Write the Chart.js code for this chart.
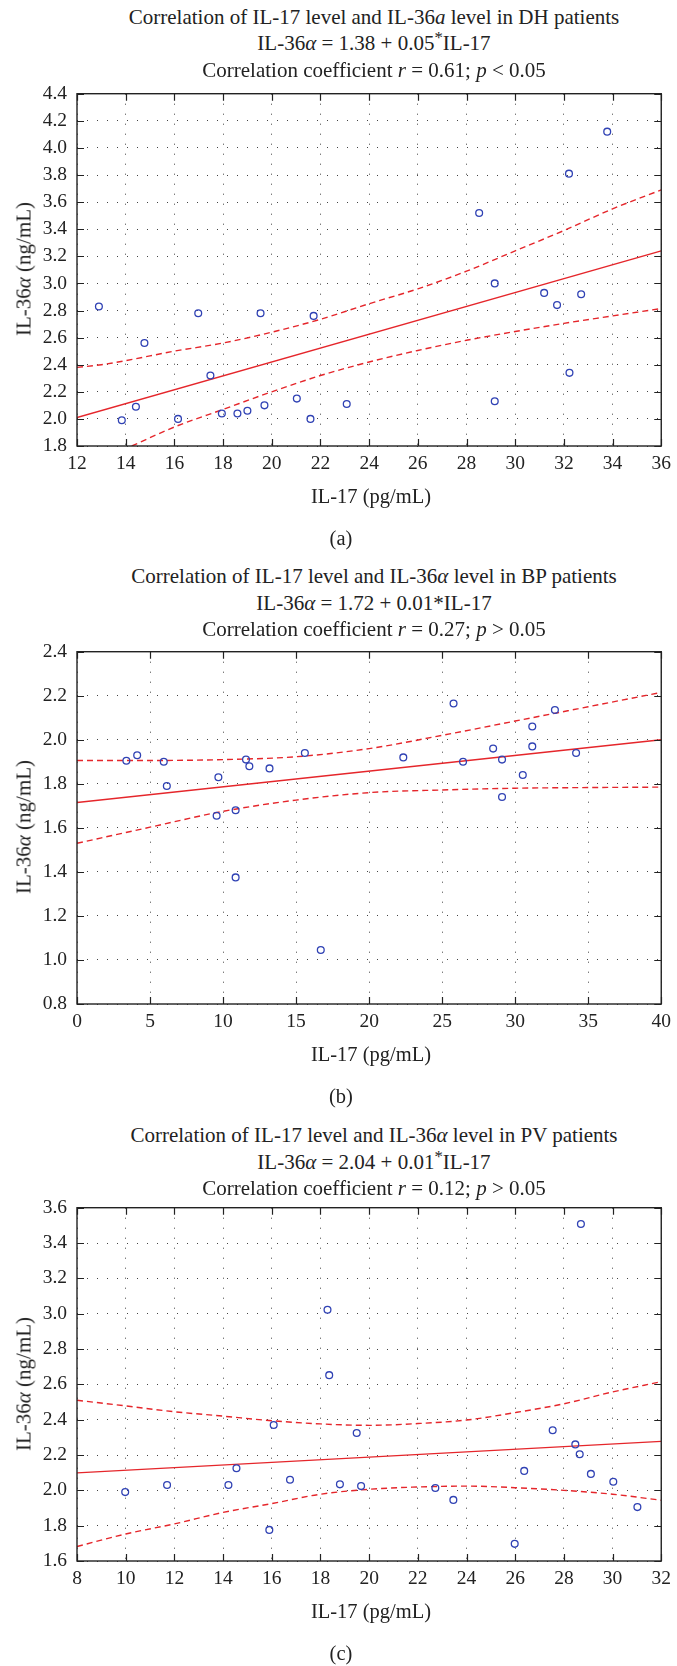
<!DOCTYPE html>
<html><head><meta charset="utf-8">
<script src="https://cdn.jsdelivr.net/npm/chart.js@4.4.0/dist/chart.umd.min.js"></script>
<style>
html,body{margin:0;padding:0;background:#fff;}
body{width:677px;height:1666px;position:relative;overflow:hidden;font-family:"Liberation Serif","Times New Roman",serif;color:#222;}
.t{position:absolute;white-space:nowrap;transform:translate(-50%,-50%);font-size:21px;line-height:1;}
.ax{position:absolute;white-space:nowrap;transform:translate(-50%,-50%);font-size:20.5px;line-height:1;}
.yt{position:absolute;white-space:nowrap;transform:translate(-50%,-50%) rotate(-90deg);font-size:21px;line-height:1;}
sup{font-size:0.8em;vertical-align:0;position:relative;top:-0.4em;line-height:0;}
canvas{position:absolute;left:0;}
</style></head><body>
<script>
// ---------- Panel (a): DH ----------
const dhIL17 = [12.9,13.84,14.42,14.77,16.15,16.98,17.48,17.95,18.59,19.0,19.54,19.70,21.03,21.59,21.72,23.08,29.16,29.16,31.19,31.72,32.71,32.23,28.52,32.21,33.78];
const dhIL36 = [2.83,1.99,2.09,2.56,2.00,2.78,2.32,2.04,2.04,2.06,2.78,2.10,2.15,2.00,2.76,2.11,3.00,2.13,2.93,2.84,2.92,2.34,3.52,3.81,4.12];
const dhFitX = [12,36];
const dhFitY = [2.01,3.24];
const dhUpperX = [12,13,14,16,18,20,22,24,26,28,30,32,34,36];
const dhUpperY = [2.38,2.40,2.43,2.50,2.56,2.64,2.735,2.85,2.96,3.09,3.24,3.39,3.55,3.69];
const dhLowerX = [14.25,16,18,20,22,24,26,28,30,32,34,36];
const dhLowerY = [1.80,1.94,2.07,2.20,2.32,2.42,2.505,2.58,2.645,2.705,2.76,2.815];
const dhXTicks = [12,14,16,18,20,22,24,26,28,30,32,34,36];
const dhYTicks = [1.8,2.0,2.2,2.4,2.6,2.8,3.0,3.2,3.4,3.6,3.8,4.0,4.2,4.4];

// ---------- Panel (b): BP ----------
const bpIL17 = [3.38,4.12,5.94,6.15,9.68,9.56,10.86,11.57,11.80,13.18,15.6,22.34,25.78,26.43,28.49,29.1,29.1,30.52,31.17,31.17,32.72,34.17,10.86,16.69];
const bpIL36 = [1.905,1.93,1.90,1.79,1.83,1.655,1.68,1.91,1.88,1.87,1.94,1.92,2.165,1.90,1.96,1.91,1.74,1.84,2.06,1.97,2.135,1.94,1.375,1.045];
const bpFitX = [0,40];
const bpFitY = [1.715,2.0];
const bpUpperX = [0,5,10,15,20,25,30,35,40];
const bpUpperY = [1.906,1.906,1.91,1.923,1.96,2.02,2.085,2.15,2.215];
const bpLowerX = [0,5,10,15,20,25,30,35,40];
const bpLowerY = [1.53,1.603,1.675,1.726,1.76,1.772,1.78,1.783,1.785];
const bpXTicks = [0,5,10,15,20,25,30,35,40];
const bpYTicks = [0.8,1.0,1.2,1.4,1.6,1.8,2.0,2.2,2.4];

// ---------- Panel (c): PV ----------
const pvIL17 = [9.98,11.70,14.22,14.55,15.9,16.08,16.75,18.80,19.49,19.67,22.72,23.46,25.98,26.37,27.54,28.47,28.65,29.11,30.03,31.02,18.29,18.36,28.70];
const pvIL36 = [1.99,2.03,2.03,2.125,1.776,2.37,2.06,2.034,2.325,2.024,2.013,1.946,1.697,2.11,2.34,2.26,2.204,2.093,2.049,1.905,3.022,2.652,3.508];
const pvFitX = [8,32];
const pvFitY = [2.099,2.277];
const pvUpperX = [8,10,12,14,16,18,20,22,24,26,28,30,32];
const pvUpperY = [2.51,2.478,2.445,2.42,2.394,2.376,2.368,2.378,2.398,2.44,2.49,2.557,2.615];
const pvLowerX = [8,10,12,14,16,18,20,22,24,26,28,30,32];
const pvLowerY = [1.682,1.753,1.81,1.875,1.925,1.978,2.006,2.019,2.024,2.015,2.0,1.978,1.944];
const pvXTicks = [8,10,12,14,16,18,20,22,24,26,28,30,32];
const pvYTicks = [1.6,1.8,2.0,2.2,2.4,2.6,2.8,3.0,3.2,3.4,3.6];

// ---------- Texts ----------
const titles = [
  ['Correlation of IL-17 level and IL-36<i>a</i> level in DH patients','IL-36<i>α</i> = 1.38 + 0.05<sup>*</sup>IL-17','Correlation coefficient <i>r</i> = 0.61; <i>p</i> &lt; 0.05'],
  ['Correlation of IL-17 level and IL-36<i>α</i> level in BP patients','IL-36<i>α</i> = 1.72 + 0.01*IL-17','Correlation coefficient <i>r</i> = 0.27; <i>p</i> &gt; 0.05'],
  ['Correlation of IL-17 level and IL-36<i>α</i> level in PV patients','IL-36<i>α</i> = 2.04 + 0.01<sup>*</sup>IL-17','Correlation coefficient <i>r</i> = 0.12; <i>p</i> &gt; 0.05']
];
const captions = ['(a)','(b)','(c)'];
const xTitle = 'IL-17 (pg/mL)';
const yTitle = 'IL-36<i>α</i> (ng/mL)';

// ---------- Layout (page pixels) ----------
const layout = [
  {top:92, bottom:446, titleY:[17,43,70]},
  {top:650, bottom:1004, titleY:[576,603,629]},
  {top:1206, bottom:1561, titleY:[1135,1162,1188]}
];
const AREA_LEFT = 77, AREA_RIGHT = 664, PAD_TOP = 20, XAXIS_H = 40;

const panels = [
  {x:dhIL17,y:dhIL36,fx:dhFitX,fy:dhFitY,ux:dhUpperX,uy:dhUpperY,lx:dhLowerX,ly:dhLowerY,xt:dhXTicks,yt:dhYTicks},
  {x:bpIL17,y:bpIL36,fx:bpFitX,fy:bpFitY,ux:bpUpperX,uy:bpUpperY,lx:bpLowerX,ly:bpLowerY,xt:bpXTicks,yt:bpYTicks},
  {x:pvIL17,y:pvIL36,fx:pvFitX,fy:pvFitY,ux:pvUpperX,uy:pvUpperY,lx:pvLowerX,ly:pvLowerY,xt:pvXTicks,yt:pvYTicks}
];

const zip = (xs,ys)=>xs.map((v,i)=>({x:v,y:ys[i]}));
const FONT = '"Liberation Serif","Times New Roman",serif';
const RED = '#e5262b', BLUE = '#3042b4', INK = '#222';

const framePlugin = {
  id:'frame',
  afterDatasetsDraw(chart){
    const {ctx, chartArea:a} = chart;
    const sx = chart.scales.x, sy = chart.scales.y;
    const L = 7;
    ctx.save();
    ctx.strokeStyle = INK; ctx.lineWidth = 1.2;
    ctx.beginPath();
    sx.ticks.forEach(t=>{const p=Math.round(sx.getPixelForValue(t.value))+0.5;
      ctx.moveTo(p,a.bottom); ctx.lineTo(p,a.bottom-L); ctx.moveTo(p,a.top); ctx.lineTo(p,a.top+L);});
    sy.ticks.forEach(t=>{const p=Math.round(sy.getPixelForValue(t.value))+0.5;
      ctx.moveTo(a.left,p); ctx.lineTo(a.left+L,p); ctx.moveTo(a.right,p); ctx.lineTo(a.right-L,p);});
    ctx.stroke();
    ctx.lineWidth = 1.4;
    ctx.strokeRect(a.left,a.top,a.right-a.left,a.bottom-a.top);
    ctx.restore();
  }
};

function addText(cls, html, x, y){
  const d = document.createElement('div');
  d.className = cls; d.innerHTML = html;
  d.style.left = x+'px'; d.style.top = y+'px';
  document.body.appendChild(d);
}

panels.forEach((P, k)=>{
  const L = layout[k];
  const cTop = L.top - PAD_TOP;
  const cH = (L.bottom - L.top) + PAD_TOP + XAXIS_H;
  const cv = document.createElement('canvas');
  cv.width = 677; cv.height = cH;
  cv.style.top = cTop+'px'; cv.style.width='677px'; cv.style.height=cH+'px';
  document.body.appendChild(cv);

  const lineDs = (xs,ys,dash)=>({
    type:'scatter', data:zip(xs,ys), showLine:true, pointRadius:0, borderColor:RED,
    borderWidth:1.4, borderDash:dash, cubicInterpolationMode:'monotone', fill:false, order:1
  });

  new Chart(cv, {
    type:'scatter',
    data:{datasets:[
      {data:zip(P.x,P.y), pointRadius:3.4, pointBorderWidth:1.3, borderColor:BLUE, backgroundColor:'rgba(0,0,0,0)', pointBackgroundColor:'rgba(0,0,0,0)', order:0},
      lineDs(P.fx,P.fy,[]),
      lineDs(P.ux,P.uy,[6,4]),
      lineDs(P.lx,P.ly,[6,4])
    ]},
    options:{
      responsive:false, animation:false, devicePixelRatio:1,
      layout:{padding:{top:PAD_TOP,right:677-AREA_RIGHT,left:0,bottom:0}},
      plugins:{legend:{display:false},tooltip:{enabled:false}},
      scales:{
        x:{type:'linear', min:P.xt[0], max:P.xt[P.xt.length-1],
          afterBuildTicks:s=>{s.ticks=P.xt.map(v=>({value:v}));},
          afterFit:s=>{s.height=XAXIS_H;},
          ticks:{autoSkip:false,maxRotation:0,padding:6,color:INK,font:{family:FONT,size:19.5},callback:(v)=>String(v)},
          grid:{drawTicks:false,color:'#444',lineWidth:1},
          border:{display:false,dash:[1,9]}
        },
        y:{type:'linear', min:P.yt[0], max:P.yt[P.yt.length-1],
          afterBuildTicks:s=>{s.ticks=P.yt.map(v=>({value:v}));},
          afterFit:s=>{s.width=AREA_LEFT;},
          ticks:{autoSkip:false,padding:10,color:INK,font:{family:FONT,size:19.5},callback:(v)=>Number(v).toFixed(1)},
          grid:{drawTicks:false,color:'#444',lineWidth:1},
          border:{display:false,dash:[1,9]}
        }
      }
    },
    plugins:[framePlugin]
  });

  titles[k].forEach((t,i)=>addText('t', t, 374, L.titleY[i]));
  addText('ax', xTitle, 371, L.bottom+50);
  addText('ax', captions[k], 341, L.bottom+92);
  addText('yt', yTitle, 24, (L.top+L.bottom)/2);
});
</script>
</body></html>
